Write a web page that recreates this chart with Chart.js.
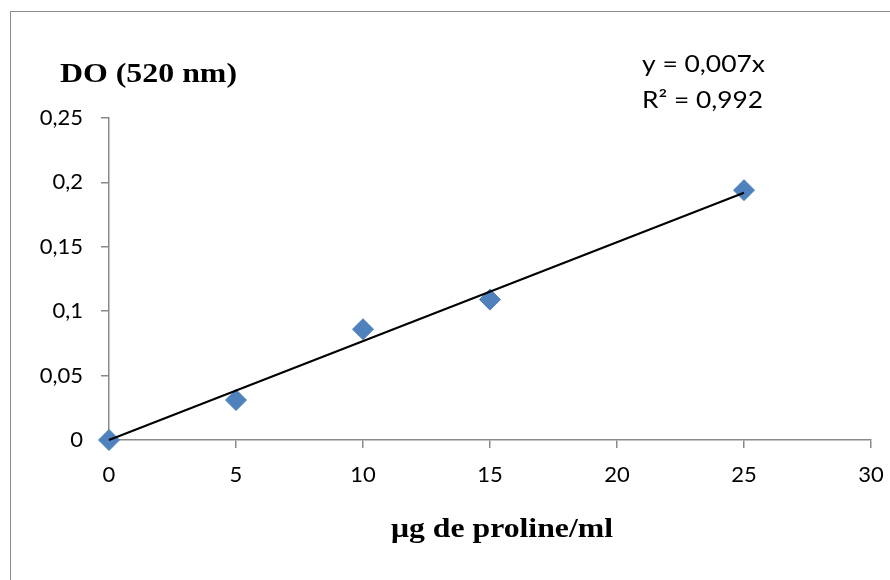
<!DOCTYPE html>
<html><head><meta charset="utf-8">
<script src="https://cdn.jsdelivr.net/npm/chart.js@4"></script>
<style>html,body{margin:0;padding:0;background:#fff;} #wrap{position:relative;width:890px;height:580px;}</style>
</head><body><div id="wrap"><canvas id="c" width="890" height="580"></canvas></div>
<script>
// ---- data ----
const concentrations = [0, 5, 10, 15, 25];          // µg de proline/ml
const absorbance = [0, 0.031, 0.086, 0.109, 0.194]; // DO (520 nm)
const trendX = [0, 25];
const trendY = [0, 0.192];
const xTicks = [0, 5, 10, 15, 20, 25, 30];
const yTicks = [0, 0.05, 0.1, 0.15, 0.2, 0.25];
const yTitle = 'DO (520 nm)';
const xTitle = 'μg de proline/ml';
const equationLines = ['y = 0,007x', 'R² = 0,992'];

const fmt = v => Number(v.toFixed(2)).toString().replace('.', ',');
const AXIS = '#898989';

function drawStretched(c, text, x, baseline, font, targetWidth, align) {
  c.save();
  c.font = font;
  c.fillStyle = '#000';
  c.textBaseline = 'alphabetic';
  c.textAlign = 'left';
  const w = c.measureText(text).width;
  const sx = targetWidth ? targetWidth / w : 1;
  const left = align === 'center' ? x - (w * sx) / 2 : x;
  c.translate(left, baseline);
  c.scale(sx, 1);
  c.fillText(text, 0, 0);
  c.restore();
}

const decor = {
  id: 'decor',
  beforeDraw(chart) {
    const c = chart.ctx;
    c.save();
    c.fillStyle = '#fff';
    c.fillRect(0, 0, chart.width, chart.height);
    c.strokeStyle = '#8c8c8c';
    c.lineWidth = 1;
    c.strokeRect(10.5, 11.5, 900, 600);
    c.restore();
  },
  afterDraw(chart) {
    const c = chart.ctx, a = chart.chartArea;
    drawStretched(c, yTitle, a.left - 49, a.top - 36, 'bold 28px "Liberation Serif"', 177);
    drawStretched(c, xTitle, (a.left + a.right) / 2 + 12, a.bottom + 97, 'bold 27px "Liberation Serif"', 222, 'center');
    drawStretched(c, equationLines[0], a.right - 229, a.top - 46, '24px Lato', 123);
    drawStretched(c, equationLines[1], a.right - 229, a.top - 10, '24px Lato', 121);
  }
};

const axisCommon = {
  type: 'linear',
  grid: { display: true, drawOnChartArea: false, drawTicks: true, tickLength: 8, color: AXIS, lineWidth: 1.5 },
  border: { display: true, color: AXIS, width: 1.5 },
};

new Chart(document.getElementById('c'), {
  type: 'scatter',
  data: {
    datasets: [
      {
        label: 'Linéaire',
        data: trendX.map((x, i) => ({ x, y: trendY[i] })),
        showLine: true,
        borderColor: '#000',
        borderWidth: 2,
        pointRadius: 0,
        fill: false,
        clip: false,
        order: 0
      },
      {
        label: 'DO',
        data: concentrations.map((x, i) => ({ x, y: absorbance[i] })),
        pointStyle: 'rectRot',
        pointRadius: 10.5,
        pointBackgroundColor: '#4F81BD',
        pointBorderColor: '#4F81BD',
        pointBorderWidth: 1,
        clip: false,
        order: 1
      }
    ]
  },
  options: {
    responsive: false,
    animation: false,
    layout: { padding: { top: 118, right: 19, bottom: 0, left: 0 } },
    plugins: { legend: { display: false }, tooltip: { enabled: false }, title: { display: false } },
    scales: {
      x: Object.assign({}, axisCommon, {
        min: 0, max: 30,
        afterBuildTicks: s => { s.ticks = xTicks.map(v => ({ value: v })); },
        afterFit: s => { s.height = 140; s.paddingLeft = 0; s.paddingRight = 0; },
        ticks: { color: '#000', font: { family: 'Lato', size: 22 }, padding: 14, maxRotation: 0, autoSkip: false, callback: v => fmt(v) }
      }),
      y: Object.assign({}, axisCommon, {
        min: 0, max: 0.25,
        afterBuildTicks: s => { s.ticks = yTicks.map(v => ({ value: v })); },
        afterFit: s => { s.width = 109; s.paddingTop = 0; s.paddingBottom = 0; },
        ticks: { color: '#000', font: { family: 'Lato', size: 22 }, padding: 18, autoSkip: false, callback: v => fmt(v) }
      })
    }
  },
  plugins: [decor]
});
</script>
</body></html>
